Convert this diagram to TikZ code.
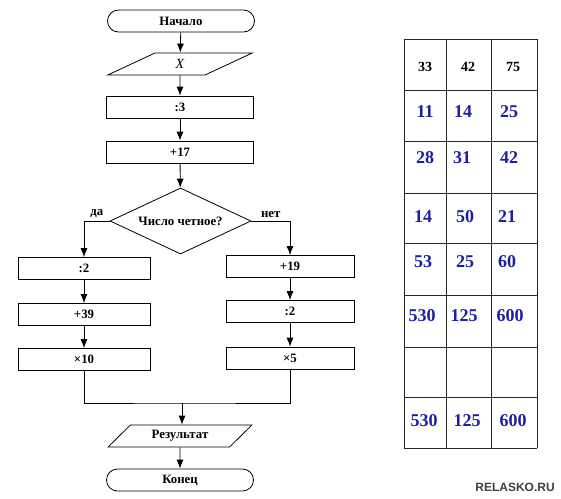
\documentclass[tikz,border=0pt]{standalone}
\usepackage{fontspec}
\setmainfont{Liberation Serif}
\newfontfamily\wmfont{Liberation Sans}
\usetikzlibrary{shapes.geometric,arrows.meta}
\definecolor{numblue}{RGB}{30,30,165}

\begin{document}
\begin{tikzpicture}[x=1pt,y=-1pt,
  every node/.style={font=\bfseries\fontsize{12.8}{14}\selectfont},
  box/.style={draw, line width=0.8pt, minimum height=22pt, inner sep=2pt},
  term/.style={box, rounded corners=11pt, minimum width=147pt},
  io/.style={box, trapezium, trapezium left angle=48, trapezium right angle=132,
    trapezium stretches=true, minimum width=145pt},
  proc/.style={box, minimum width=147pt},
  procl/.style={box, minimum width=132pt},
  procr/.style={box, minimum width=128pt},
  cond/.style={draw, line width=0.8pt, diamond, aspect=2.1, inner sep=0pt,
    minimum width=141pt, minimum height=66pt},
  arr/.style={-{Latex[length=9pt,width=7pt]}, line width=0.8pt},
  link/.style={line width=0.8pt},
  cell/.style={line width=1pt, black!85},
  head/.style={font=\bfseries\fontsize{14}{16}\selectfont},
  num/.style={text=numblue, font=\bfseries\fontsize{18}{20}\selectfont}]
\useasboundingbox (0,0) rectangle (561,498);

%schema
\node[term] (start) at (181,21) {Начало};
\node[io] (inx) at (180,64) {\normalfont\itshape\fontsize{14}{16}\selectfont X};
\node[proc] (div3) at (180,107) {:3};
\node[proc] (add17) at (180,152) {+17};
\node[cond] (even) at (180.5,221) {Число четное?};

\node[procl] (ldiv) at (84,268.5) {:2};
\node[procl] (ladd) at (84,314.5) {+39};
\node[procl] (lmul) at (84,359.5) {×10};

\node[procr] (radd) at (290,266.5) {+19};
\node[procr] (rdiv) at (290,311.5) {:2};
\node[procr] (rmul) at (290,358) {×5};

\coordinate (join) at (182,403);
\node[io] (res) at (180,436) {Результат};
\node[term] (stop) at (180,480) {Конец};

\draw[arr] (start) -- (inx);
\draw[arr] (inx) -- (div3);
\draw[arr] (div3) -- (add17);
\draw[arr] (add17) -- (even);
\draw[arr] (even.west) -| node[pos=0.25,above] {да} (ldiv.north);
\draw[arr] (even.east) -| node[pos=0.25,above] {нет} (radd.north);
\draw[arr] (ldiv) -- (ladd);
\draw[arr] (ladd) -- (lmul);
\draw[arr] (radd) -- (rdiv);
\draw[arr] (rdiv) -- (rmul);
\draw[link] (lmul.south) |- (join) -| (rmul.south);
\draw[arr] (join) -- (join |- res.north);
\draw[arr] (res) -- (stop);

%tableau
\foreach \x in {404,446,491,537} \draw[cell] (\x,39) -- (\x,448);
\foreach \y in {39,90,141,193,243,295,347,397,448} \draw[cell] (404,\y) -- (537,\y);

\node[head] (h1) at (425,67) {33};
\node[head] (h2) at (468,67) {42};
\node[head] (h3) at (513,67) {75};

\node[num] (a1) at (425,112) {11};
\node[num] (a2) at (463,112) {14};
\node[num] (a3) at (509,112) {25};

\node[num] (b1) at (425,158) {28};
\node[num] (b2) at (462,158) {31};
\node[num] (b3) at (509,158) {42};

\node[num] (c1) at (423,217) {14};
\node[num] (c2) at (465,217) {50};
\node[num] (c3) at (507,217) {21};

\node[num] (d1) at (423,262) {53};
\node[num] (d2) at (465,262) {25};
\node[num] (d3) at (507,262) {60};

\node[num] (e1) at (422,316) {530};
\node[num] (e2) at (464,316) {125};
\node[num] (e3) at (510,316) {600};

\node[num] (f1) at (424,421) {530};
\node[num] (f2) at (467,421) {125};
\node[num] (f3) at (513,421) {600};

\node[font=\wmfont\bfseries\fontsize{12}{14}\selectfont, text=black!75] (wm) at (515,487) {RELASKO.RU};
\end{tikzpicture}
\end{document}
